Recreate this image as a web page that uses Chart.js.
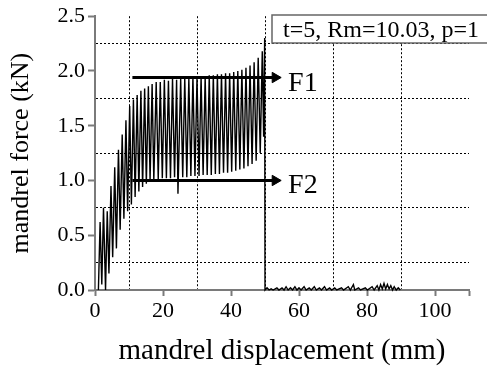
<!DOCTYPE html>
<html>
<head>
<meta charset="utf-8">
<script src="https://cdn.jsdelivr.net/npm/chart.js@4"></script>
<style>
  body { margin: 0; background: #fff; }
  canvas { display: block; }
</style>
</head>
<body>
<canvas id="forceChart" width="487" height="374"></canvas>
<script>
// đường lực: đỉnh / đáy (mm, kN)
const displacement = [
  1.0, 1.5, 2.0, 2.5, 3.1, 3.6, 4.1, 4.7, 5.2, 5.8, 6.3, 6.9, 7.4, 8.0, 8.5, 9.1, 9.6,
  10.2, 10.7, 11.3, 11.8, 12.4, 12.9, 13.5, 14.0, 14.6, 15.1, 15.7, 16.2, 16.8, 17.3,
  18.0, 18.6, 19.2, 19.8, 20.4, 21.0, 21.6, 22.2, 22.8, 23.4, 24.0, 24.4, 25.2, 25.8,
  26.4, 27.0, 27.6, 28.2, 28.8, 29.4, 30.0, 30.6, 31.2, 31.8, 32.4, 33.0, 33.6, 34.2,
  34.8, 35.4, 36.0, 36.6, 37.2, 37.8, 38.4, 39.0, 39.6, 40.2, 40.8, 41.4, 42.0, 42.6,
  43.2, 43.8, 44.4, 45.0, 45.6, 46.2, 46.8, 47.4, 48.0, 48.6, 49.2, 49.6, 49.9, 50.0,
  50.6, 51.2, 51.8, 52.4, 53.5, 54.1, 55.0, 55.6, 56.2, 56.8, 57.5, 58.1, 58.8, 59.4,
  60.0, 60.6, 61.5, 62.1, 63.0, 63.6, 64.5, 65.1, 66.0, 66.6, 67.5, 68.1, 69.0, 69.6,
  70.5, 71.1, 72.5, 73.1, 74.5, 75.1, 76.0, 76.4, 77.5, 78.1, 79.5, 80.1, 81.5, 82.1,
  83.0, 83.5, 84.0, 84.5, 85.0, 85.5, 86.0, 86.5, 87.0, 87.5, 88.0, 88.6, 89.2, 89.8
];
const force = [
  0.0, 0.62, 0.05, 0.75, 0.0, 0.72, 0.15, 0.95, 0.30, 1.12, 0.38, 1.28, 0.55, 1.42, 0.65, 1.55, 0.72,
  1.68, 0.78, 1.74, 0.85, 1.78, 0.90, 1.82, 0.94, 1.84, 0.97, 1.86, 1.00, 1.88, 1.00,
  1.90, 1.01, 1.90, 1.02, 1.92, 1.02, 1.91, 1.02, 1.93, 1.03, 1.92, 0.88, 1.93, 1.03,
  1.94, 1.03, 1.93, 1.04, 1.95, 1.04, 1.94, 1.04, 1.95, 1.05, 1.95, 1.05, 1.96, 1.05,
  1.96, 1.06, 1.97, 1.06, 1.97, 1.07, 1.98, 1.07, 1.98, 1.08, 1.99, 1.09, 2.00, 1.10,
  2.01, 1.11, 2.03, 1.13, 2.05, 1.15, 2.08, 1.18, 2.12, 1.25, 2.18, 1.40, 2.30, 0.0,
  0.02, 0.0, 0.01, 0.0, 0.02, 0.0, 0.02, 0.0, 0.03, 0.0, 0.02, 0.0, 0.03, 0.0,
  0.02, 0.0, 0.03, 0.0, 0.02, 0.0, 0.03, 0.0, 0.02, 0.0, 0.03, 0.0, 0.02, 0.0,
  0.02, 0.0, 0.02, 0.0, 0.03, 0.0, 0.05, 0.0, 0.02, 0.0, 0.02, 0.0, 0.03, 0.0,
  0.04, 0.0, 0.05, 0.01, 0.06, 0.01, 0.05, 0.01, 0.04, 0.0, 0.03, 0.0, 0.02, 0.0
];

// mũi tên F1, F2
const arrowNames = ['F1', 'F2'];
const arrowLevels = [1.94, 1.0];
const arrowFrom = 11;
const arrowTo = 53;
const labelAt = 56.8;

const xTicks = [0, 20, 40, 60, 80, 100];
const yTicks = [0.0, 0.5, 1.0, 1.5, 2.0, 2.5];
const legendText = 't=5, Rm=10.03, p=1';

const serif = 'Liberation Serif';
const axisGray = '#7a7a7a';

const curve = displacement.map((x, i) => ({ x: x, y: force[i] }));

const arrowSets = arrowLevels.map((lvl, i) => ({
  label: arrowNames[i],
  data: [{ x: arrowFrom, y: lvl }, { x: arrowTo, y: lvl }],
  showLine: true,
  borderColor: '#000',
  backgroundColor: '#000',
  borderWidth: 3,
  pointStyle: 'triangle',
  pointRotation: 90,
  pointRadius: [0, 6],
  pointBorderWidth: 1,
  order: 1
}));

const isMinorX = v => v % 20 === 10 && v < 110;
const isMajorY = v => Math.round(v * 4) % 2 === 0;

const textPlugin = {
  id: 'notes',
  afterDraw(chart) {
    const c = chart.ctx;
    const xs = chart.scales.x, ys = chart.scales.y;
    c.save();
    // hộp chú thích
    c.fillStyle = '#fff';
    c.strokeStyle = '#666';
    c.lineWidth = 1.5;
    c.fillRect(272, 15, 230, 28);
    c.strokeRect(272, 15, 230, 28);
    c.fillStyle = '#000';
    c.font = '24px "' + serif + '"';
    c.textBaseline = 'alphabetic';
    c.textAlign = 'left';
    c.fillText(legendText, 283, 37);
    // nhãn F1, F2
    c.font = '28px "' + serif + '"';
    arrowLevels.forEach((lvl, i) => {
      c.fillText(arrowNames[i], xs.getPixelForValue(labelAt), ys.getPixelForValue(lvl) + 13);
    });
    c.restore();
  }
};

new Chart(document.getElementById('forceChart').getContext('2d'), {
  type: 'scatter',
  data: {
    datasets: [
      ...arrowSets,
      {
        label: 'force',
        data: curve,
        showLine: true,
        borderColor: '#000',
        borderWidth: 1.4,
        pointRadius: 0,
        tension: 0,
        clip: 6,
        order: 2
      }
    ]
  },
  options: {
    responsive: false,
    animation: false,
    layout: { padding: { left: 0, right: 18, top: 15, bottom: 0 } },
    plugins: {
      legend: { display: false },
      tooltip: { enabled: false }
    },
    scales: {
      x: {
        type: 'linear',
        min: 0,
        max: 110,
        afterFit: s => { s.height = 84; },
        ticks: {
          stepSize: 10,
          autoSkip: false,
          maxRotation: 0,
          padding: 2,
          color: '#000',
          font: { family: serif, size: 22 },
          callback: v => xTicks.includes(v) ? v : ''
        },
        grid: {
          color: ctx => ctx.tick && isMinorX(ctx.tick.value) ? '#000' : 'rgba(0,0,0,0)',
          lineWidth: 1,
          tickLength: 6,
          tickWidth: 2,
          tickColor: ctx => ctx.tick && (xTicks.includes(ctx.tick.value) || ctx.tick.value === 110) ? axisGray : 'rgba(0,0,0,0)'
        },
        border: { color: axisGray, width: 2, dash: [2, 2] },
        title: {
          display: true,
          text: 'mandrel displacement (mm)',
          color: '#000',
          font: { family: serif, size: 29 },
          padding: { top: 0, bottom: 5 }
        }
      },
      y: {
        type: 'linear',
        min: 0,
        max: 2.5,
        afterFit: s => { s.width = 95; },
        ticks: {
          stepSize: 0.25,
          autoSkip: false,
          padding: 3,
          color: '#000',
          font: { family: serif, size: 22 },
          callback: v => isMajorY(v) && yTicks.includes(Number(v.toFixed(1))) ? v.toFixed(1) : ''
        },
        grid: {
          color: ctx => ctx.tick && !isMajorY(ctx.tick.value) ? '#000' : 'rgba(0,0,0,0)',
          lineWidth: 1,
          tickLength: 7,
          tickWidth: 2,
          tickColor: ctx => ctx.tick && isMajorY(ctx.tick.value) ? axisGray : 'rgba(0,0,0,0)'
        },
        border: { color: axisGray, width: 2, dash: [2, 2] },
        title: {
          display: true,
          text: 'mandrel force (kN)',
          color: '#000',
          font: { family: serif, size: 26 },
          padding: { top: 6, bottom: 0 }
        }
      }
    }
  },
  plugins: [textPlugin]
});
</script>
</body>
</html>
